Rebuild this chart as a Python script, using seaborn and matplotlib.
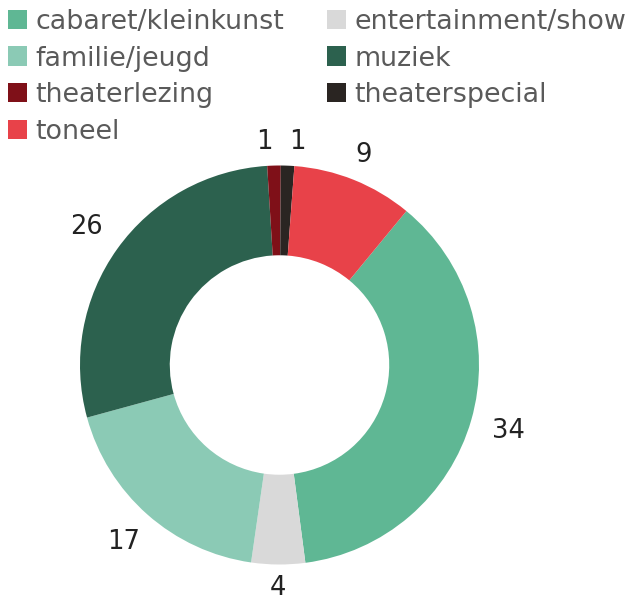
import numpy as np
import matplotlib
matplotlib.use("Agg")
from matplotlib import pyplot as plt
import seaborn as sns

# data
categories = ['cabaret/kleinkunst', 'entertainment/show', 'familie/jeugd', 'muziek',
              'theaterlezing', 'theaterspecial', 'toneel']
counts = [34, 4, 17, 26, 1, 1, 9]
colors = ['#5fb794', '#d9d9d9', '#8bcab5', '#2c614e', '#7f1018', '#2a2522', '#e84249']

sns.set_theme(style="white")
plt.rcParams['font.family'] = ['DejaVu Sans']

W, H = 630, 601
fig = plt.figure(figsize=(W / 100, H / 100), dpi=100)
fig.patch.set_facecolor('white')

# donut axes, placed in pixels
cx, cy, R = 279.5, 365.0, 199.5
ax = fig.add_axes([(cx - R) / W, (H - cy - R) / H, 2 * R / W, 2 * R / H])

wedges, _ = ax.pie(
    counts,
    colors=colors,
    startangle=50.5,
    counterclock=False,
    radius=1,
    wedgeprops=dict(width=0.45, linewidth=0),
)
# pie() resets the limits, so set them afterwards
ax.set_xlim(-1, 1)
ax.set_ylim(-1, 1)
ax.set_aspect('equal')
ax.axis('off')

# value labels outside the ring
texts = []
for w, val in zip(wedges, counts):
    ang = np.deg2rad((w.theta1 + w.theta2) / 2)
    t = ax.text(np.cos(ang), np.sin(ang), str(val), ha='center', va='center',
                fontsize=18.5, color='#222222')
    texts.append((t, ang))

fig.canvas.draw()
renderer = fig.canvas.get_renderer()
for t, ang in texts:
    bb = t.get_window_extent(renderer)
    half = (abs(np.cos(ang)) * 1.4 * bb.width / 2 + abs(np.sin(ang)) * 0.75 * bb.height / 2) / R
    r = 1.07 + half
    t.set_position((r * np.cos(ang), r * np.sin(ang)))

# push apart labels that collide (the two small slices at the top)
fig.canvas.draw()
pad = 16 / R
for i in range(len(texts)):
    for j in range(i + 1, len(texts)):
        ti, tj = texts[i][0], texts[j][0]
        bi, bj = ti.get_window_extent(renderer), tj.get_window_extent(renderer)
        close_x = abs(bi.x0 - bj.x0) < (bi.width + bj.width) / 2 + 16
        close_y = abs(bi.y0 - bj.y0) < bi.height
        if close_x and close_y:
            xi, yi = ti.get_position()
            xj, yj = tj.get_position()
            need = (bi.width + bj.width) / 2 / R + pad
            shift = (need - abs(xi - xj)) / 2
            if shift > 0:
                s = 1 if xi > xj else -1
                ti.set_position((xi + s * shift, yi))
                tj.set_position((xj - s * shift, yj))

# legend in two columns at the top
col1 = [0, 2, 4, 6]
col2 = [1, 3, 5]
leg_kw = dict(frameon=False, fontsize=19.4, labelcolor='#5a5a5a', borderpad=0,
              handlelength=0.72, handleheight=0.72, handletextpad=0.3,
              labelspacing=0.39, borderaxespad=0)
leg1 = fig.legend([wedges[i] for i in col1], [categories[i] for i in col1],
                  loc='upper left', bbox_to_anchor=(8 / W, 1 - 9 / H), **leg_kw)
leg2 = fig.legend([wedges[i] for i in col2], [categories[i] for i in col2],
                  loc='upper left', bbox_to_anchor=(327 / W, 1 - 9 / H), **leg_kw)

fig.savefig('out.png', dpi=100, facecolor='white')
plt.close(fig)
